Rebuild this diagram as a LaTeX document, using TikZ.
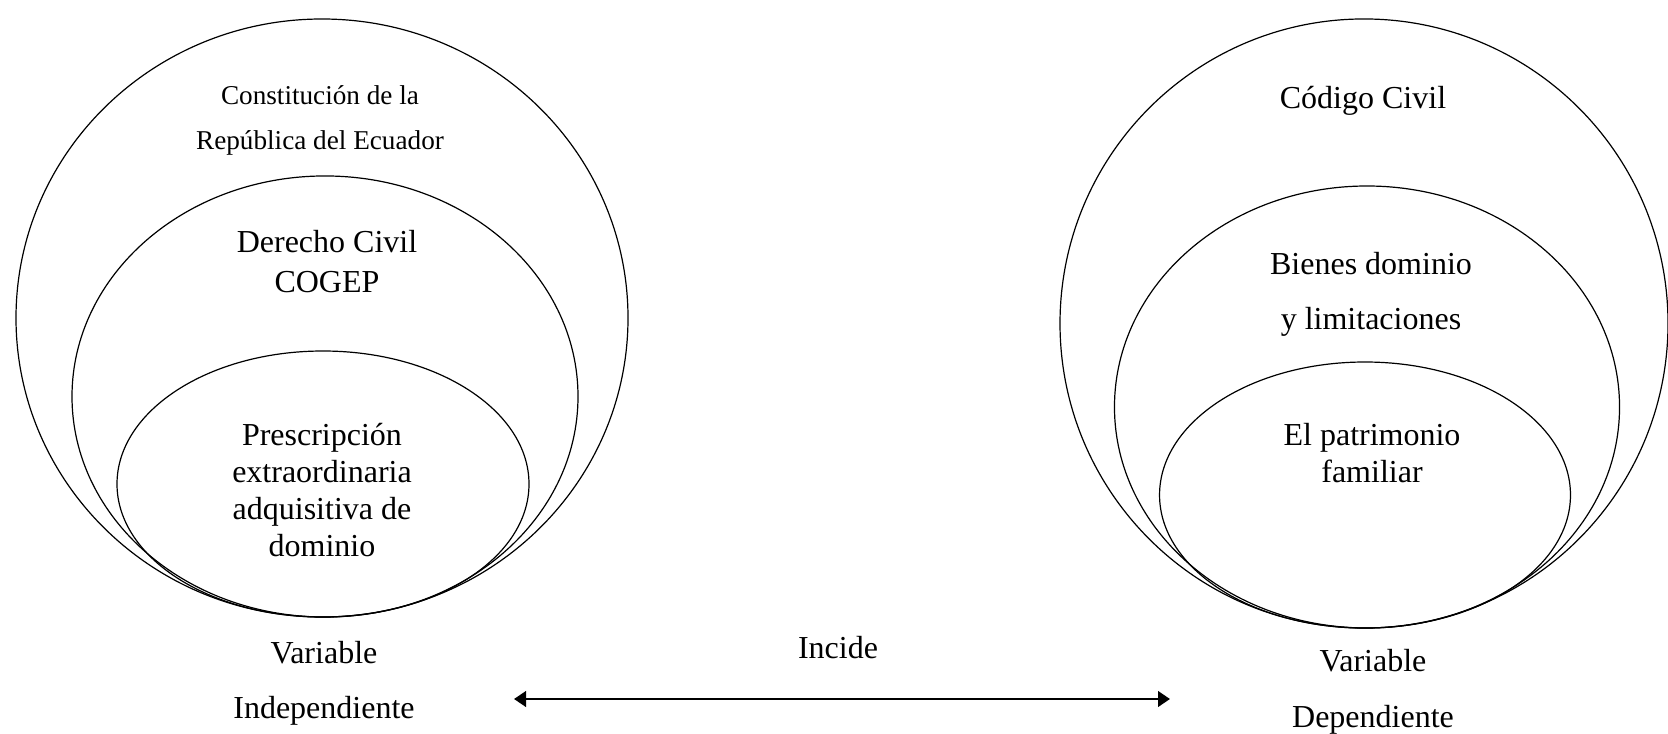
\documentclass[tikz,border=0pt]{standalone}
\usepackage{fontspec}
\setmainfont{Liberation Serif}
\usetikzlibrary{shapes.geometric, positioning, arrows.meta}

\begin{document}
\begin{tikzpicture}[x=0.375pt, y=-0.375pt,
    conjunto/.style={draw, ellipse, inner sep=0pt, line width=0.45pt},
    texto/.style={align=center, inner sep=0pt, font=\fontsize{12}{13.9}\selectfont},
    pequeno/.style={align=center, inner sep=0pt, font=\fontsize{10.2}{12.2}\selectfont},
    flecha/.style={{Triangle[length=4.5pt, width=5.8pt]}-{Triangle[length=4.5pt, width=5.8pt]}, line width=1pt}]
    \useasboundingbox (0,0) rectangle (1668,734);

    % Left sets: variable independiente
    \node[conjunto, minimum width=229.5pt, minimum height=224.25pt] (lext) at (322,318) {};
    \node[conjunto, minimum width=189.75pt, minimum height=165.4pt] (lmed) at (325,396.5) {};
    \node[conjunto, minimum width=154.5pt, minimum height=99.75pt] (lint) at (323,484) {};

    \node[pequeno] (constitucion) at (320,120.5) {Constitución de la\\[5pt]República del Ecuador};
    \node[texto] (derecho) at (327,262) {Derecho Civil\\[1.1pt]COGEP};
    \node[texto] (prescripcion) at (322,490) {Prescripción\\extraordinaria\\adquisitiva de\\dominio};
    \node[texto] (varind) at (324,683.5) {Variable\\[6.7pt]Independiente};

    % Right sets: variable dependiente
    \node[conjunto, minimum width=228pt, minimum height=228.4pt] (rext) at (1364,323.5) {};
    \node[conjunto, minimum width=189.4pt, minimum height=165.75pt] (rmed) at (1367,407) {};
    \node[conjunto, minimum width=154.1pt, minimum height=99.75pt] (rint) at (1365,495) {};

    \node[texto] (codigo) at (1363,101) {Código Civil};
    \node[texto] (bienes) at (1371,294.5) {Bienes dominio\\[6.7pt]y limitaciones};
    \node[texto] (patrimonio) at (1372,453) {El patrimonio\\familiar};
    \node[texto] (vardep) at (1373,692) {Variable\\[7pt]Dependiente};

    % Relation between both variables
    \coordinate (izq) at (514,699);
    \coordinate (der) at (1170,699);
    \node[texto] (incide) at (838,648) {Incide};
    \draw[flecha] (izq) -- (der);
\end{tikzpicture}
\end{document}
